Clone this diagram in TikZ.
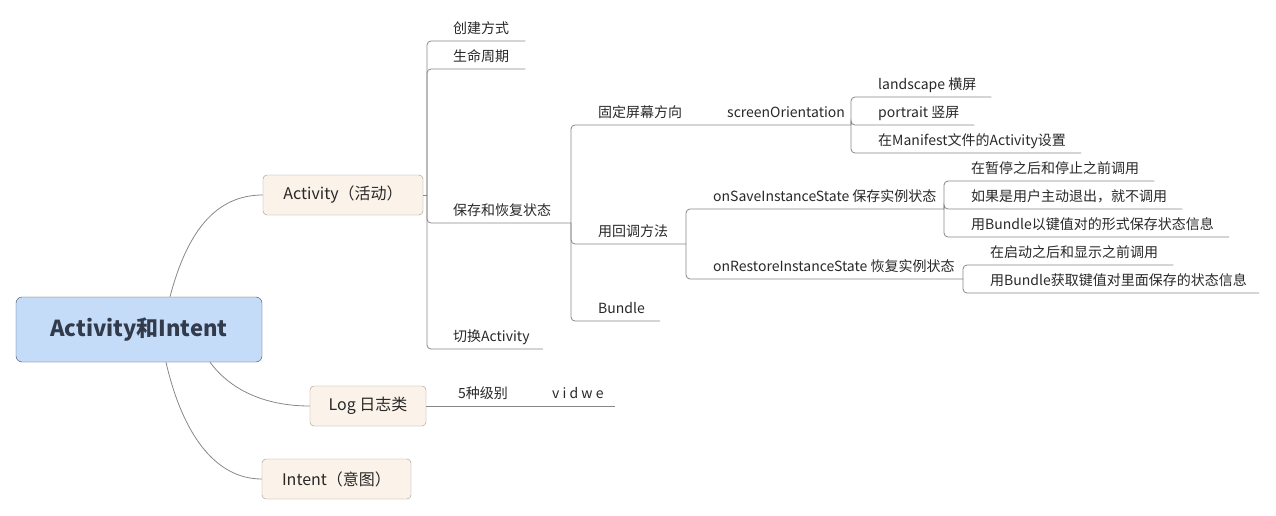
\documentclass[tikz,border=0pt]{standalone}
\usepackage{fontspec}
\setmainfont{Noto Sans CJK SC}
\usetikzlibrary{positioning,calc}
\definecolor{rootblue}{RGB}{196,220,248}
\definecolor{rootedge}{RGB}{62,74,94}
\definecolor{topiccream}{RGB}{251,243,234}
\definecolor{topicedge}{RGB}{158,149,137}
\definecolor{linkgray}{RGB}{135,135,135}
\definecolor{textgray}{RGB}{40,40,40}

\begin{document}
\begin{tikzpicture}[
    x=1pt, y=-1pt,
    font=\fontsize{14}{16}\selectfont, text=textgray,
    rootbox/.style={draw=rootedge, rounded corners=6pt, fill=rootblue, minimum width=246pt, minimum height=65pt, font=\fontsize{22}{26}\selectfont\bfseries, text=rootedge!80!black},
    mainbox/.style={draw=topicedge, rounded corners=4pt, fill=topiccream, minimum height=40pt, font=\fontsize{16}{19}\selectfont},
    topic/.style={anchor=south west, inner xsep=0pt, inner ysep=3pt, text depth=4pt},
    link/.style={draw=linkgray, line width=0.8pt, rounded corners=4pt},
]
\useasboundingbox (0,0) rectangle (1276,516);

% Root and main branches
\node[rootbox] (root) at (139,329.5) {Activity和Intent};
\node[mainbox, minimum width=160pt] (act) at (343,195) {Activity（活动）};
\node[mainbox, minimum width=116pt] (log) at (368,406) {Log 日志类};
\node[mainbox, minimum width=149pt] (intent) at (336.5,479) {Intent（意图）};

\draw[link] ([xshift=31pt]root.north) .. controls (188,228) and (218,195) .. (act.west);
\draw[link] ([xshift=71pt]root.south) .. controls (232,392) and (268,406) .. (log.west);
\draw[link] ([xshift=27pt]root.south) .. controls (182,432) and (214,479) .. (intent.west);

% Junction points
\coordinate (actj) at (427,195);
\coordinate (savej) at (571,223);
\coordinate (oriej) at (851,125);
\coordinate (cbj) at (686,244);
\coordinate (osj) at (944,209);
\coordinate (orj) at (963,279);

% Activity children
\node[topic] (cjfs) at (453,41) {创建方式};
\node[topic] (smzq) at (453,69) {生命周期};
\node[topic] (bchf) at (453,223) {保存和恢复状态};
\node[topic] (qhact) at (453,349) {切换Activity};

\draw[link] (act.east) -- (actj);
\draw[link] (actj) |- ([xshift=16pt]cjfs.south east);
\draw[link] (actj) |- ([xshift=16pt]smzq.south east);
\draw[link] (actj) |- (savej);
\draw[link] (actj) |- ([xshift=13pt]qhact.south east);

% Save and restore state
\node[topic] (gdpm) at (598,125) {固定屏幕方向};
\node[topic] (scrori) at (727,125) {screenOrientation};
\node[topic] (hdff) at (598,244) {用回调方法};
\node[topic] (bundle) at (598,321) {Bundle};

\draw[link] (savej) |- (oriej);
\draw[link] (savej) |- (cbj);
\draw[link] (savej) |- ([xshift=15pt]bundle.south east);

% screenOrientation values
\node[topic] (land) at (878,97) {landscape 横屏};
\node[topic] (port) at (878,125) {portrait 竖屏};
\node[topic] (mani) at (878,153) {在Manifest文件的Activity设置};

\draw[link] (oriej) |- ([xshift=15pt]land.south east);
\draw[link] (oriej) |- ([xshift=15pt]port.south east);
\draw[link] (oriej) |- ([xshift=15pt]mani.south east);

% Callback methods
\node[topic] (onsave) at (713,209) {onSaveInstanceState 保存实例状态};
\node[topic] (onrest) at (713,279) {onRestoreInstanceState 恢复实例状态};

\draw[link] (cbj) |- (osj);
\draw[link] (cbj) |- (orj);

\node[topic] (os1) at (971,181) {在暂停之后和停止之前调用};
\node[topic] (os2) at (971,209) {如果是用户主动退出，就不调用};
\node[topic] (os3) at (971,237) {用Bundle以键值对的形式保存状态信息};

\draw[link] (osj) |- ([xshift=15pt]os1.south east);
\draw[link] (osj) |- ([xshift=15pt]os2.south east);
\draw[link] (osj) |- ([xshift=15pt]os3.south east);

\node[topic] (or1) at (990,265) {在启动之后和显示之前调用};
\node[topic] (or2) at (990,293) {用Bundle获取键值对里面保存的状态信息};

\draw[link] (orj) |- ([xshift=15pt]or1.south east);
\draw[link] (orj) |- ([xshift=12pt]or2.south east);

% Log levels
\node[topic] (lvl) at (458,406) {5种级别};
\node[topic] (vidwe) at (552,406) {v i d w e};

\draw[link] (log.east) -- ([xshift=11pt]vidwe.south east);

\end{tikzpicture}
\end{document}
